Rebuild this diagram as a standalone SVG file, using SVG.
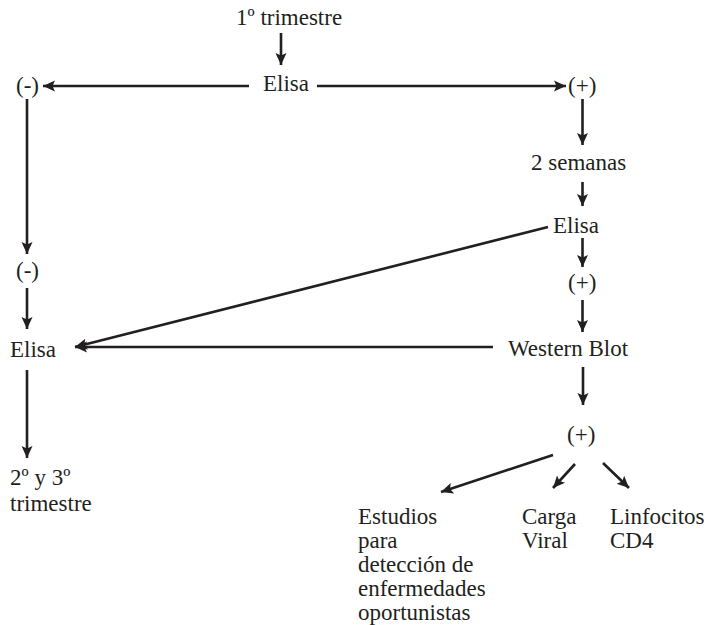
<svg xmlns="http://www.w3.org/2000/svg" width="718" height="625" viewBox="0 0 718 625">
<style>
text{font-family:'Liberation Serif','Times New Roman',serif;font-size:23px;fill:#231f20}
.c line{stroke:#231f20;stroke-width:2.6;fill:none;marker-end:url(#ah)}
</style>
<defs>
<marker id="ah" markerUnits="userSpaceOnUse" markerWidth="14" markerHeight="14" viewBox="0 0 14 14" refX="12" refY="7" orient="auto">
<path d="M0,1.5 L12,7 L0,12.5 L2.5,7 Z" fill="#231f20"/>
</marker>
</defs>
<rect width="718" height="625" fill="#fff"/>
<g class="c" id="connectors">
<line x1="281" y1="33" x2="281" y2="65"/>
<line x1="249" y1="86" x2="43" y2="86"/>
<line x1="317" y1="86" x2="566" y2="86"/>
<line x1="582.5" y1="99" x2="582.5" y2="145"/>
<line x1="582.5" y1="182" x2="582.5" y2="206"/>
<line x1="582.5" y1="238" x2="582.5" y2="267"/>
<line x1="582.5" y1="300" x2="582.5" y2="332"/>
<line x1="583" y1="367" x2="583" y2="405"/>
<line x1="27" y1="99" x2="27" y2="254"/>
<line x1="27" y1="288" x2="27" y2="329"/>
<line x1="27" y1="370" x2="27" y2="458"/>
<line x1="548" y1="227" x2="75" y2="347"/>
<line x1="493" y1="347" x2="75" y2="347"/>
<line x1="553" y1="455" x2="441" y2="492"/>
<line x1="575" y1="464" x2="553" y2="488"/>
<line x1="603" y1="463" x2="629" y2="488"/>
</g>
<g id="n_trim1"><text x="236" y="25">1º trimestre</text></g>
<g id="n_elisa1"><text x="263" y="91">Elisa</text></g>
<g id="n_neg1"><text x="16" y="93">(-)</text></g>
<g id="n_pos1"><text x="568" y="93">(+)</text></g>
<g id="n_2sem"><text x="531" y="170">2 semanas</text></g>
<g id="n_elisa2"><text x="553" y="233">Elisa</text></g>
<g id="n_pos2"><text x="568" y="290">(+)</text></g>
<g id="n_neg2"><text x="16" y="278">(-)</text></g>
<g id="n_elisa3"><text x="10" y="357">Elisa</text></g>
<g id="n_wb"><text x="508" y="356">Western Blot</text></g>
<g id="n_pos3"><text x="567" y="442">(+)</text></g>
<g id="n_trim23"><text x="10" y="485">2º y 3º</text><text x="10" y="511">trimestre</text></g>
<g id="n_estudios"><text x="358" y="524">Estudios</text><text x="358" y="548">para</text><text x="358" y="572">detección de</text><text x="358" y="596">enfermedades</text><text x="358" y="620">oportunistas</text></g>
<g id="n_carga"><text x="522" y="524">Carga</text><text x="522" y="548">Viral</text></g>
<g id="n_linf"><text x="610" y="524">Linfocitos</text><text x="610" y="548">CD4</text></g>
</svg>
